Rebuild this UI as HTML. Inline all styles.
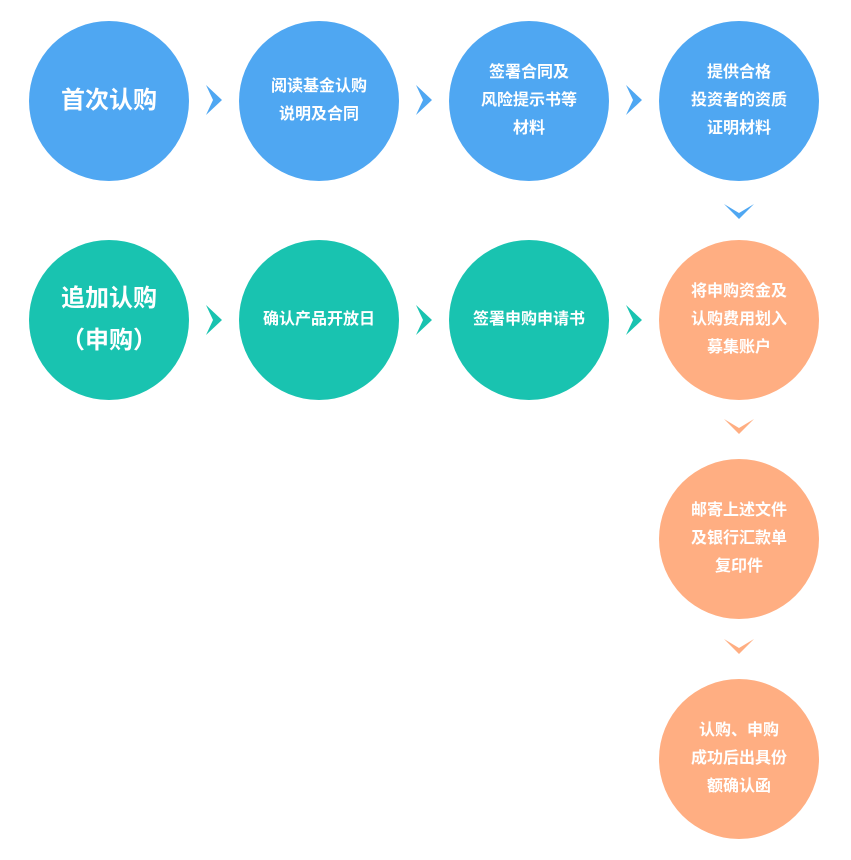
<!DOCTYPE html><html><head><meta charset="utf-8"><style>
body{margin:0;width:851px;height:860px;background:#fff;position:relative;overflow:hidden;font-family:"Liberation Sans","Noto Sans CJK SC",sans-serif}
.c{position:absolute;width:160px;height:160px;border-radius:50%;display:flex;align-items:center;justify-content:center;text-align:center;color:#fff;font-weight:bold;font-size:16px;line-height:28px}
.b{background:#4fa7f2}.t{background:#19c3b0}.o{background:#ffae82}
.big{font-size:24px;line-height:42px}
svg{position:absolute;left:0;top:0}
</style></head><body>
<div class="c b big" style="left:29px;top:21px">首次认购</div>
<div class="c b" style="left:239px;top:21px">阅读基金认购<br>说明及合同</div>
<div class="c b" style="left:449px;top:21px">签署合同及<br>风险提示书等<br>材料</div>
<div class="c b" style="left:659px;top:21px">提供合格<br>投资者的资质<br>证明材料</div>
<div class="c t big" style="left:29px;top:240px">追加认购<br>（申购）</div>
<div class="c t" style="left:239px;top:240px">确认产品开放日</div>
<div class="c t" style="left:449px;top:240px">签署申购申请书</div>
<div class="c o" style="left:659px;top:240px">将申购资金及<br>认购费用划入<br>募集账户</div>
<div class="c o" style="left:659px;top:459px">邮寄上述文件<br>及银行汇款单<br>复印件</div>
<div class="c o" style="left:659px;top:679px">认购、申购<br>成功后出具份<br>额确认函</div>
<svg width="851" height="860">
<g fill="#4fa7f2">
<polygon points="206,85 222,100 206,115 213,100"/>
<polygon points="416,85 432,100 416,115 423,100"/>
<polygon points="626,85 642,100 626,115 633,100"/>
<polygon points="724,204 739,213 754,204 739,219"/>
</g>
<g fill="#19c3b0">
<polygon points="206,305 222,320 206,335 213,320"/>
<polygon points="416,305 432,320 416,335 423,320"/>
<polygon points="626,305 642,320 626,335 633,320"/>
</g>
<g fill="#ffae82">
<polygon points="724,419 739,428 754,419 739,434"/>
<polygon points="724,639 739,648 754,639 739,654"/>
</g>
</svg>
</body></html>
